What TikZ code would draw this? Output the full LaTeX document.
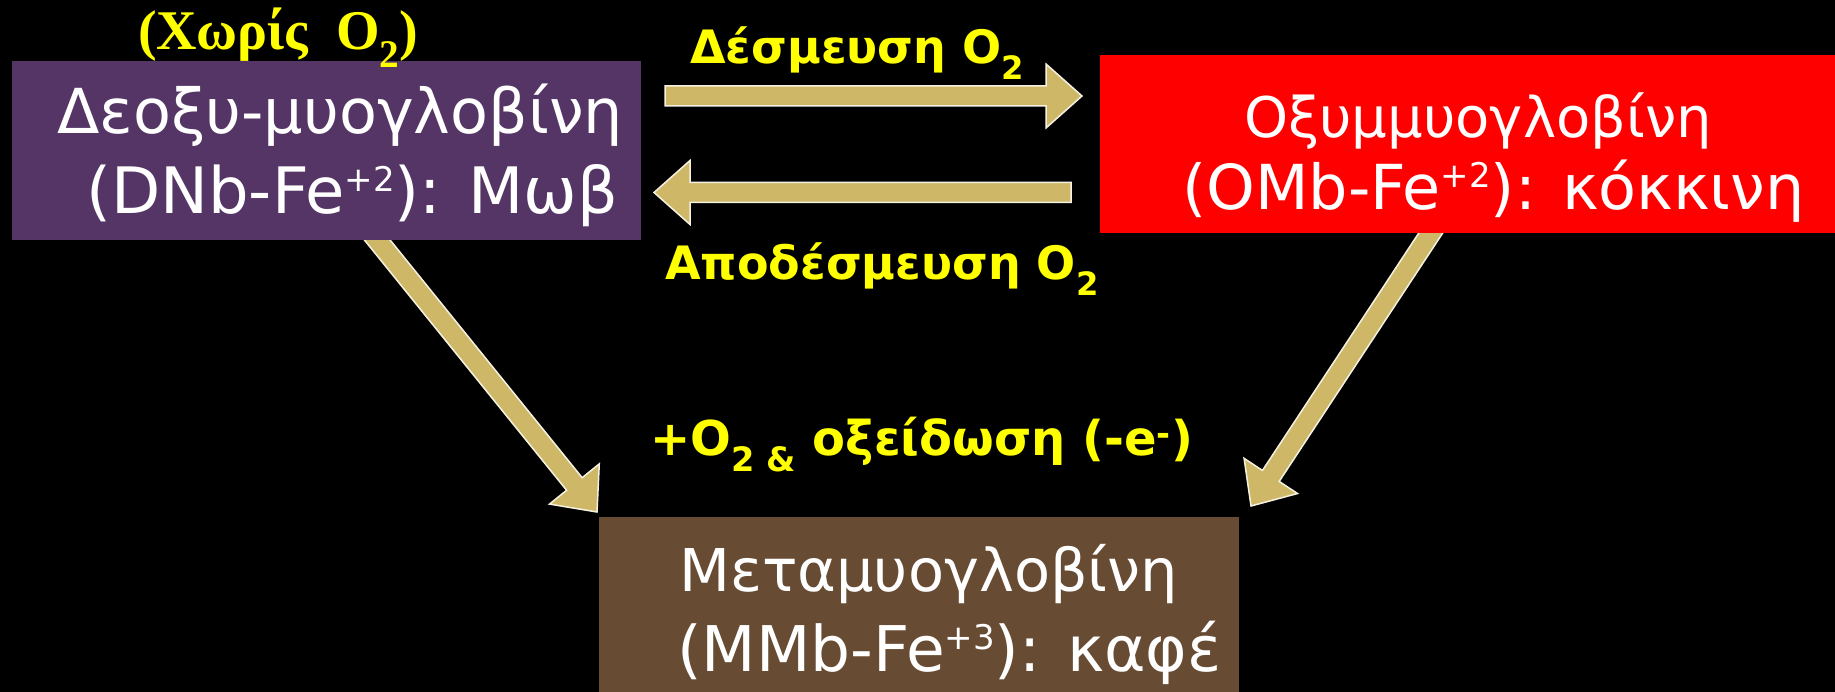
\documentclass[tikz,border=0pt]{standalone}
\usepackage{fontspec}
\setmainfont{DejaVu Sans}
\newfontfamily\serifbold{Liberation Serif}
\usetikzlibrary{calc}
\definecolor{purplebox}{RGB}{85,53,102}
\definecolor{redbox}{RGB}{255,0,0}
\definecolor{brownbox}{RGB}{104,75,51}
\definecolor{arrowtan}{RGB}{206,184,104}
\definecolor{labelyellow}{RGB}{255,255,0}
\newcommand\chargesup[1]{\raisebox{22pt}{\fontsize{34}{40}\selectfont #1}}
\newcommand\blockarr[2]{%
  \filldraw[barrow]
    ($(#1)!10pt!90:(#2)$) --
    ($(#2)!36pt!(#1)!10pt!-90:(#1)$) --
    ($(#2)!36pt!(#1)!32pt!-90:(#1)$) --
    (#2) --
    ($(#2)!36pt!(#1)!32pt!90:(#1)$) --
    ($(#2)!36pt!(#1)!10pt!90:(#1)$) --
    ($(#1)!10pt!-90:(#2)$) -- cycle;}
\tikzset{
  barrow/.style={fill=arrowtan, draw=white!80!arrowtan, line width=1.5pt, line join=miter},
  box/.style={rectangle, inner sep=0pt, outer sep=0pt, draw=none},
  boxtext/.style={text=white, anchor=base west, inner sep=0pt, font=\fontsize{60}{72}\selectfont},
  ylab/.style={text=labelyellow, anchor=base west, inner sep=0pt, font=\bfseries\fontsize{46}{52}\selectfont},
}
\begin{document}
\begin{tikzpicture}[x=1pt,y=-1pt]
\useasboundingbox (0,0) rectangle (1835,692);
\fill[black] (0,0) rectangle (1835,692);
% arrow end points
\coordinate (r1s) at (665,96);
\coordinate (r1t) at (1082,96);
\coordinate (l1s) at (1071,192.5);
\coordinate (l1t) at (654,192.5);
\coordinate (d1s) at (368.6,229.3);
\coordinate (d1t) at (597,512);
\coordinate (d2s) at (1439,220.5);
\coordinate (d2t) at (1251,506);
\blockarr{r1s}{r1t}
\blockarr{l1s}{l1t}
\blockarr{d1s}{d1t}
\blockarr{d2s}{d2t}
% boxes
\node[box, fill=purplebox, minimum width=629pt, minimum height=179pt] (deoxy) at (326.5,150.5) {};
\node[box, fill=redbox, minimum width=735pt, minimum height=178pt] (oxy) at (1467.5,144) {};
\node[box, fill=brownbox, minimum width=640pt, minimum height=175pt] (met) at (919,604.5) {};
% box texts
\node[boxtext, font=\fontsize{62}{72}\selectfont] (deoxy1) at (57,134) {Δεοξυ-μυογλοβίνη};
\node[boxtext, font=\fontsize{64}{72}\selectfont] (deoxy2) at (86,214) {(DNb-Fe\chargesup{+2}): Μωβ};
\node[boxtext, font=\fontsize{56}{72}\selectfont] (oxy1) at (1244,138) {Οξυμμυογλοβίνη};
\node[boxtext, font=\fontsize{62}{72}\selectfont] (oxy2) at (1182,210) {(OMb-Fe\chargesup{+2}): κόκκινη};
\node[boxtext, font=\fontsize{59}{72}\selectfont] (met1) at (679,591) {Μεταμυογλοβίνη};
\node[boxtext, font=\fontsize{63}{72}\selectfont] (met2) at (677,671) {(MMb-Fe\chargesup{+3}): καφέ};
% labels
\node[text=labelyellow, anchor=base west, inner sep=0pt, font=\serifbold\bfseries\fontsize{56}{60}\selectfont] (noox) at (138,50) {(Χωρίς~ O\textsubscript{2})};
\node[ylab] (bind) at (690,64) {Δέσμευση O\textsubscript{2}};
\node[ylab] (unbind) at (665,280) {Αποδέσμευση O\textsubscript{2}};
\node[ylab, font=\bfseries\fontsize{48}{52}\selectfont] (oxid) at (650,455) {+O\textsubscript{2 \&} οξείδωση (-e\textsuperscript{-})};
\end{tikzpicture}
\end{document}
